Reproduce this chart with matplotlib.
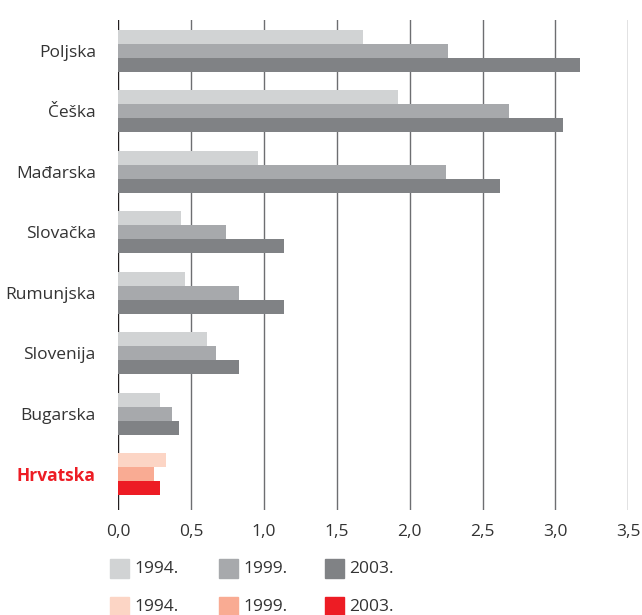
import numpy as np
import matplotlib
matplotlib.use("Agg")
import matplotlib.pyplot as plt
from matplotlib.patches import Rectangle

plt.rcParams['font.family'] = ['Open Sans', 'DejaVu Sans']

# data
countries = ["Poljska", "Češka", "Mađarska", "Slovačka", "Rumunjska",
             "Slovenija", "Bugarska", "Hrvatska"]
years = ["1994.", "1999.", "2003."]
v1994 = [1.68, 1.92, 0.96, 0.43, 0.46, 0.61, 0.29, 0.33]
v1999 = [2.26, 2.68, 2.25, 0.74, 0.83, 0.67, 0.37, 0.25]
v2003 = [3.17, 3.05, 2.62, 1.14, 1.14, 0.83, 0.42, 0.29]
xticks = [0, 0.5, 1.0, 1.5, 2.0, 2.5, 3.0, 3.5]

grays = ["#d1d3d4", "#a7a9ac", "#808285"]
reds = ["#fcd5c5", "#f9ab93", "#ed1c24"]
text_col = "#333333"

fig = plt.figure(figsize=(6.42, 6.15), dpi=100)
ax = fig.add_axes([118/642, 1 - 510/615, 510.4/642, 490/615])

y = np.arange(len(countries))
h = 0.2314
for i, vals in enumerate([v1994, v1999, v2003]):
    cols = [grays[i]] * (len(countries) - 1) + [reds[i]]
    ax.barh(y + (i - 1) * h, vals, height=h, color=cols, zorder=2)

# gridlines
for x in xticks:
    ax.axvline(x, color="#231f20" if x == 0 else "#6d6e71", lw=1.0, zorder=1)

ax.set_xlim(0, 3.5)
ax.set_ylim(7.587, -0.512)
for s in ax.spines.values():
    s.set_visible(False)
ax.set_xticks(xticks)
ax.set_xticklabels([f"{t:.1f}".replace(".", ",") for t in xticks])
ax.set_yticks(y)
ax.set_yticklabels(countries)
ax.tick_params(axis="both", length=0, labelsize=12.5, labelcolor=text_col)
ax.tick_params(axis="x", pad=10)
ax.tick_params(axis="y", pad=16)
last = ax.get_yticklabels()[-1]
last.set_color("#ed1c24")
last.set_fontweight("bold")

# legend, drawn by hand in figure pixels
W, H = 642, 615
col_x = [110, 219, 325]
row_y = [559, 597]
for r, cols in enumerate([grays, reds]):
    for c in range(3):
        fig.add_artist(Rectangle((col_x[c] / W, 1 - (row_y[r] + 19) / H),
                                 19 / W, 19 / H, color=cols[c],
                                 transform=fig.transFigure))
        fig.text((col_x[c] + 24) / W, 1 - (row_y[r] + 10) / H, years[c],
                 fontsize=12.5, color=text_col, va="center", ha="left")

fig.savefig("out.png", dpi=100)
